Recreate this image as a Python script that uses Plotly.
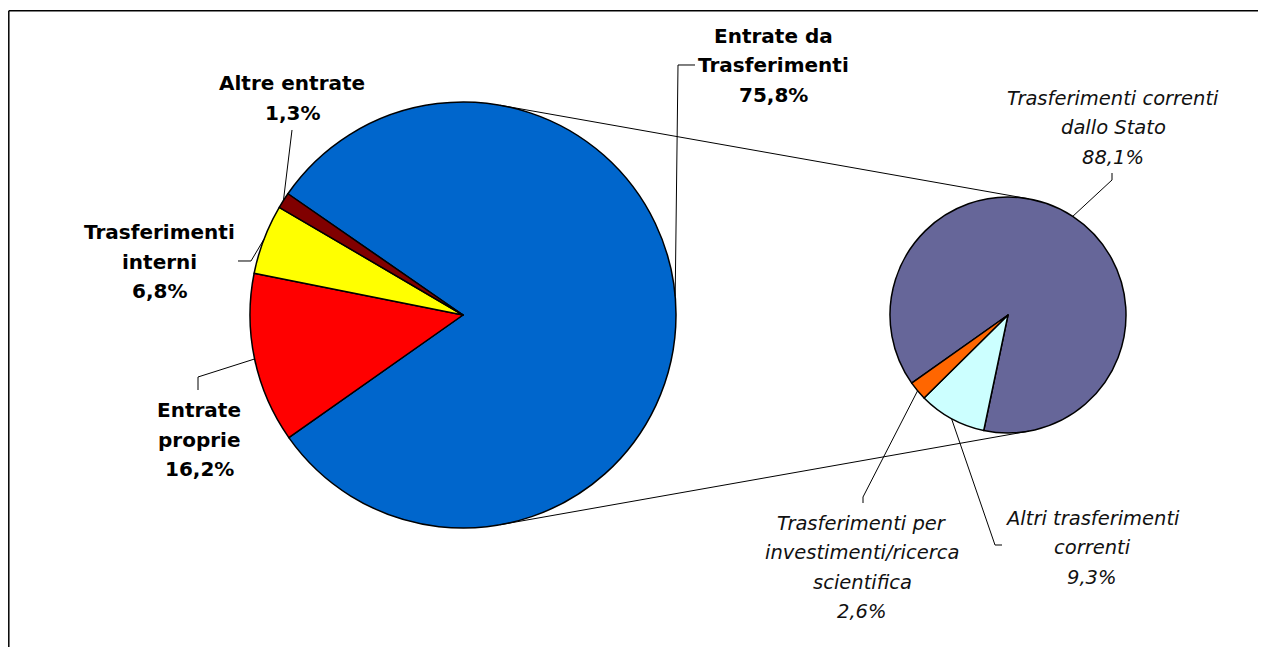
import math
import plotly.graph_objects as go

# page body adds an 8px margin; keep the figure inside the window (no scrollbars)
OFF = 8
W, H = 1266 - 2 * OFF, 659 - 2 * OFF - 4

# ---------------- data ----------------
main_labels = ["Entrate da Trasferimenti", "Entrate proprie", "Trasferimenti interni", "Altre entrate"]
main_shares = [80.6, 12.9, 5.3, 1.2]          # slice sizes as drawn in the picture
main_pct = ["75,8%", "16,2%", "6,8%", "1,3%"]  # printed labels
main_colors = ["#0066CC", "#FF0000", "#FFFF00", "#800000"]
main_lines = [["Entrate da", "Trasferimenti"], ["Entrate", "proprie"], ["Trasferimenti", "interni"], ["Altre entrate"]]

sub_labels = ["Trasferimenti correnti dallo Stato", "Altri trasferimenti correnti",
              "Trasferimenti per investimenti/ricerca scientifica"]
sub_shares = [88.1, 9.3, 2.6]
sub_pct = ["88,1%", "9,3%", "2,6%"]
sub_colors = ["#666699", "#CCFFFF", "#FF6600"]
sub_lines = [["Trasferimenti correnti", "dallo Stato"], ["Altri trasferimenti", "correnti"],
             ["Trasferimenti per", "investimenti/ricerca", "scientifica"]]

# ---------------- layout (screen pixels) ----------------
MAIN = dict(cx=463, cy=315, r=213, rot=-55.3)
SUB = dict(cx=1008, cy=315, r=118, rot=-125.3)

# label text centre x, first line centre y ; leader elbow points
main_label_pos = [(773, 36), (199, 410), (159, 232), (292, 83)]
main_leader = [[(678, 65), (695, 65)], [(198, 377), (198, 390)], [(251, 261), (238, 261)], [(292, 130)]]
main_anchor_angle = [85.0, None, None, None]   # big slice leader leaves the rim slightly above mid
sub_label_pos = [(1113, 98), (1092, 518), (862, 523)]
sub_leader = [[(1112, 180), (1112, 173)], [(995, 545), (1002, 545)], [(863, 497), (863, 503)]]
LS = 29.5


def px(x):
    return (x - OFF) / W


def py(y):
    return 1 - (y - OFF) / H


def domain(g):
    return dict(x=[px(g["cx"] - g["r"]), px(g["cx"] + g["r"])],
                y=[py(g["cy"] + g["r"]), py(g["cy"] - g["r"])])


def rim(g, a_deg):
    a = math.radians(a_deg)
    return (g["cx"] + g["r"] * math.sin(a), g["cy"] - g["r"] * math.cos(a))


def mid_points(g, vals):
    tot = sum(vals)
    cum = 0
    pts = []
    for v in vals:
        pts.append(rim(g, g["rot"] + 360 * (cum + v / 2) / tot))
        cum += v
    return pts


fig = go.Figure()
fig.add_trace(go.Pie(labels=main_labels, values=main_shares, sort=False, direction="clockwise",
                     rotation=MAIN["rot"], domain=domain(MAIN), textinfo="none", hoverinfo="skip",
                     marker=dict(colors=main_colors, line=dict(color="black", width=1.5))))
fig.add_trace(go.Pie(labels=sub_labels, values=sub_shares, sort=False, direction="clockwise",
                     rotation=SUB["rot"], domain=domain(SUB), textinfo="none", hoverinfo="skip",
                     marker=dict(colors=sub_colors, line=dict(color="black", width=1.5))))

shapes = []


def path(points):
    s = "M " + " L ".join(f"{px(x):.5f},{py(y):.5f}" for x, y in points)
    return dict(type="path", xref="paper", yref="paper", path=s, line=dict(color="black", width=1))


# leader lines
for anchor, elbow, ang in zip(mid_points(MAIN, main_shares), main_leader, main_anchor_angle):
    if ang is not None:
        anchor = rim(MAIN, ang)
    shapes.append(path([anchor] + elbow))
for anchor, elbow in zip(mid_points(SUB, sub_shares), sub_leader):
    shapes.append(path([anchor] + elbow))

# series lines: external tangents between the two pies
d = SUB["cx"] - MAIN["cx"]
phi = math.acos((MAIN["r"] - SUB["r"]) / d)
for sgn in (-1, 1):
    p1 = (MAIN["cx"] + MAIN["r"] * math.cos(phi), MAIN["cy"] + sgn * MAIN["r"] * math.sin(phi))
    p2 = (SUB["cx"] + SUB["r"] * math.cos(phi), SUB["cy"] + sgn * SUB["r"] * math.sin(phi))
    shapes.append(path([p1, p2]))

# chart border (left + top)
shapes.append(dict(type="line", xref="paper", yref="paper", x0=px(8.8), x1=px(8.8), y0=py(10.8), y1=0,
                   line=dict(color="black", width=1.5)))
shapes.append(dict(type="line", xref="paper", yref="paper", x0=px(8.8), x1=1, y0=py(10.8), y1=py(10.8),
                   line=dict(color="black", width=1.5)))

annotations = []
bold_font = dict(family="DejaVu Sans", size=20, color="black", weight="bold")
ital_font = dict(family="DejaVu Sans", size=19.5, color="#111111", style="italic")


def add_label(lines, x, y0, font):
    for i, t in enumerate(lines):
        annotations.append(dict(x=px(x), y=py(y0 + i * LS), xref="paper", yref="paper", text=t,
                                showarrow=False, xanchor="center", yanchor="middle", font=font))


for lines, pct, (x, y) in zip(main_lines, main_pct, main_label_pos):
    add_label(lines + [pct], x, y, bold_font)
for lines, pct, (x, y) in zip(sub_lines, sub_pct, sub_label_pos):
    add_label(lines + [pct], x, y, ital_font)

fig.update_layout(width=W, height=H, margin=dict(l=0, r=0, t=0, b=0), showlegend=False,
                  paper_bgcolor="white", plot_bgcolor="white", shapes=shapes, annotations=annotations,
                  hovermode=False)

fig.write_html("out.html")
